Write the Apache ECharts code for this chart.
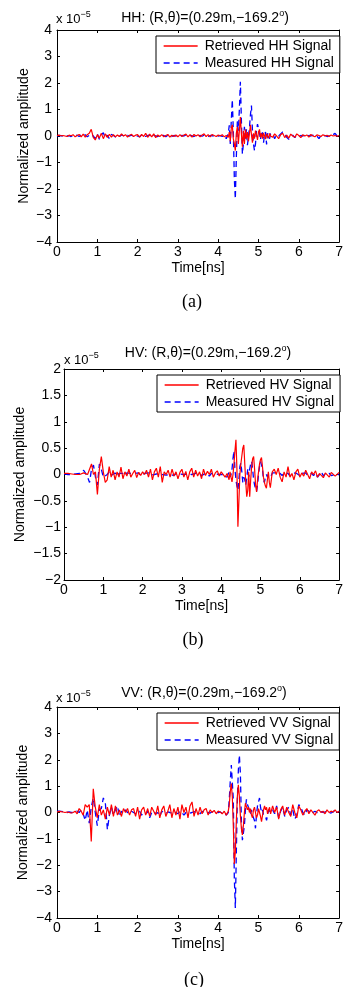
<!DOCTYPE html>
<html>
<head>
<meta charset="utf-8">
<script src="https://cdn.jsdelivr.net/npm/echarts@6/dist/echarts.min.js"></script>
<style>
html,body{margin:0;padding:0;background:#fff;}
#chart{width:346px;height:987px;}
</style>
</head>
<body>
<div id="chart"></div>
<script>
// ---- DATA (amplitudes in units of 1e-5) ----
const timeNs = [
0,0.05,0.1,0.15,0.2,0.25,0.3,0.35,0.4,0.45,
0.5,0.55,0.6,0.65,0.7,0.75,0.8,0.85,0.9,0.95,
1.0,1.05,1.1,1.15,1.2,1.25,1.3,1.35,1.4,1.45,
1.5,1.55,1.6,1.65,1.7,1.75,1.8,1.85,1.9,1.95,
2.0,2.05,2.1,2.15,2.2,2.25,2.3,2.35,2.4,2.45,
2.5,2.55,2.6,2.65,2.7,2.75,2.8,2.85,2.9,2.95,
3.0,3.05,3.1,3.15,3.2,3.25,3.3,3.35,3.4,3.45,
3.5,3.55,3.6,3.65,3.7,3.75,3.8,3.85,3.9,3.95,
4.0,4.05,4.1,4.15,4.2,
4.225,4.25,4.275,4.3,4.325,4.35,4.375,4.4,4.425,4.45,
4.475,4.5,4.525,4.55,4.575,4.6,4.625,4.65,4.675,4.7,
4.725,4.75,4.775,4.8,4.825,4.85,4.875,4.9,4.925,4.95,
4.975,5.0,5.025,5.05,5.075,5.1,5.125,5.15,5.175,5.2,
5.225,5.25,5.275,5.3,
5.35,5.4,5.45,5.5,5.55,5.6,5.65,5.7,5.75,5.8,
5.85,5.9,5.95,6.0,6.05,6.1,6.15,6.2,6.25,6.3,
6.35,6.4,6.45,6.5,6.55,6.6,6.65,6.7,6.75,6.8,
6.85,6.9,6.95,7.0
];

const hhRetrieved = [
0.02,0.03,0.01,0.02,0.0,-0.02,0.03,0.01,0.05,-0.03,
0.02,0.06,-0.03,0.07,-0.04,0.05,0.1,0.25,-0.05,-0.15,
0.05,-0.08,0.1,-0.1,0.08,-0.05,0.06,-0.04,0.05,-0.03,
0.04,-0.02,0.08,0.0,0.05,-0.04,0.03,0.06,-0.02,0.03,
0.05,-0.04,0.06,-0.02,0.1,-0.05,0.07,-0.03,0.08,-0.06,
0.04,-0.02,0.05,-0.03,0.02,0.06,-0.04,0.03,-0.02,0.04,
-0.03,0.05,-0.02,0.04,0.07,-0.03,0.05,-0.04,0.06,0.0,
0.05,-0.03,0.04,0.08,-0.02,0.05,-0.03,0.06,0.02,-0.02,
0.04,0.0,0.05,-0.03,0.02,
0.0,-0.05,0.15,-0.2,0.3,0.42,-0.1,-0.3,-0.55,0.1,
0.35,-0.3,0.2,0.72,0.1,-0.4,0.2,-0.3,0.25,-0.1,
0.15,-0.2,0.1,0.42,0.05,-0.25,0.1,-0.1,0.2,0.05,
-0.15,0.15,0.25,-0.05,0.1,-0.1,0.12,0.0,-0.12,0.08,
0.02,-0.08,0.1,0.0,
-0.05,0.08,0.0,-0.1,0.05,0.1,-0.06,0.03,-0.08,0.07,
0.0,-0.05,0.08,0.02,-0.06,0.05,0.0,0.04,-0.04,0.06,
0.0,-0.03,0.04,0.02,-0.02,0.05,0.0,0.03,-0.02,0.04,
0.0,0.02,-0.01,0.02
];
const hhMeasured = [
0.0,0.02,0.01,-0.01,0.02,0.0,0.01,-0.02,0.02,0.0,
0.03,-0.02,0.04,0.0,0.05,-0.03,0.02,0.06,0.0,-0.1,
0.08,-0.12,0.05,0.12,-0.08,0.03,-0.1,0.06,0.02,-0.04,
0.03,-0.02,0.04,0.01,-0.03,0.02,0.0,0.03,-0.01,0.02,
0.0,-0.03,0.04,0.05,-0.02,0.02,0.03,-0.04,0.02,0.0,
-0.02,0.03,0.0,0.02,-0.03,0.03,0.01,-0.02,0.02,0.0,
0.03,-0.01,0.02,0.0,0.04,-0.02,0.02,0.01,-0.02,0.03,
0.0,0.02,-0.01,0.03,0.0,-0.02,0.02,0.01,-0.01,0.02,
0.0,0.02,-0.02,0.03,-0.1,
-0.15,0.1,0.4,-0.3,0.6,1.38,0.2,-1.6,-2.38,-0.8,
0.55,0.2,1.0,2.05,0.6,-0.68,-0.3,0.35,-0.1,0.25,
-0.35,-0.42,0.3,0.8,1.15,0.2,-0.3,-0.55,-0.3,0.2,
0.45,0.5,0.1,-0.15,0.2,0.1,-0.25,0.05,0.15,-0.32,
0.1,0.05,-0.1,0.08,
0.1,-0.1,0.05,0.0,0.08,0.15,0.1,-0.05,-0.12,-0.05,
0.03,-0.06,0.02,-0.03,0.02,0.0,0.03,-0.02,0.02,0.0,
0.03,-0.02,0.0,-0.1,0.02,0.0,0.02,-0.02,0.01,0.0,
0.05,0.1,0.0,0.02
];

const hvRetrieved = [
0.02,0.01,0.02,0.0,0.01,0.02,0.0,0.01,0.0,0.02,
0.03,0.06,0.0,0.1,0.2,0.0,0.05,-0.38,0.1,0.34,
0.05,-0.15,-0.1,0.15,-0.05,0.08,-0.1,0.05,-0.05,0.14,
-0.08,0.05,-0.03,0.1,-0.05,0.02,0.08,-0.06,0.04,-0.02,
0.05,0.0,0.08,-0.05,0.1,-0.1,0.05,0.12,-0.05,0.15,
-0.15,0.05,0.0,0.08,-0.05,0.1,-0.03,0.05,-0.08,0.04,
0.1,-0.05,0.06,-0.1,0.05,0.12,-0.05,0.08,-0.03,0.05,
-0.08,0.1,-0.02,0.06,0.0,0.1,-0.05,0.03,0.07,-0.03,
0.05,0.08,-0.05,0.02,-0.1,
0.05,-0.05,-0.14,0.0,0.2,0.45,0.66,0.1,-0.99,-0.5,
0.0,0.2,0.35,0.5,0.56,0.2,-0.15,-0.42,-0.3,0.05,
-0.42,-0.1,0.15,0.3,0.34,0.1,-0.2,-0.33,-0.1,0.05,
0.2,0.28,0.32,0.15,-0.05,-0.15,-0.22,-0.26,-0.1,0.05,
-0.15,-0.25,-0.1,0.05,
0.1,0.0,0.12,-0.05,-0.14,0.05,-0.05,0.15,-0.05,0.02,
-0.1,0.05,0.1,-0.05,0.03,-0.03,0.08,0.0,-0.08,0.05,
0.0,0.07,-0.05,0.02,0.05,-0.06,0.03,0.0,-0.05,0.04,
0.02,-0.03,0.0,0.04
];
const hvMeasured = [
0.01,0.02,0.0,0.01,0.0,0.02,0.01,0.0,0.02,0.0,
0.08,0.02,-0.05,-0.15,0.1,0.18,-0.05,-0.2,0.2,0.1,
-0.05,-0.05,0.0,0.05,-0.02,0.0,0.03,-0.03,0.02,0.0,
0.02,-0.02,0.03,0.0,0.02,-0.01,0.02,0.0,0.03,-0.02,
0.01,0.02,0.0,0.03,-0.01,0.02,0.0,-0.02,0.02,0.01,
0.0,0.02,-0.01,0.02,0.0,0.01,-0.02,0.02,0.0,0.01,
0.02,0.0,-0.02,0.01,0.02,0.0,-0.01,0.02,0.0,0.02,
-0.02,0.01,0.02,0.0,-0.03,0.02,0.0,0.01,0.02,0.0,
0.02,0.0,0.03,-0.05,0.05,
-0.05,0.0,0.1,0.3,0.45,0.1,-0.1,-0.22,-0.3,-0.1,
0.15,0.22,0.05,-0.15,-0.05,-0.1,-0.2,-0.05,0.1,-0.05,
0.1,0.2,0.25,0.1,-0.1,-0.2,-0.28,-0.32,-0.2,0.0,
0.15,0.25,0.27,0.1,-0.1,-0.15,-0.05,0.0,-0.05,0.02,
0.0,0.05,-0.02,0.03,
0.0,0.03,0.0,0.02,-0.02,0.03,0.0,0.02,-0.03,0.02,
0.0,0.03,0.0,-0.02,0.02,0.0,0.03,-0.02,0.0,0.02,
-0.02,0.03,-0.05,0.0,0.05,-0.03,0.02,0.0,0.02,-0.02,
0.01,0.0,0.02,0.0
];

const vvRetrieved = [
0.02,0.04,0.03,0.02,0.0,0.02,0.0,-0.02,0.0,0.05,
-0.05,0.15,0.05,-0.1,0.3,0.2,0.3,-1.1,0.9,0.2,
-0.2,0.3,-0.1,0.1,-0.25,0.2,-0.1,0.3,-0.15,0.25,
-0.1,0.1,-0.15,0.15,0.0,0.15,-0.1,0.1,0.15,-0.15,
0.2,-0.25,0.1,0.2,-0.1,0.15,-0.15,0.2,0.05,-0.1,
0.25,-0.2,0.1,0.25,-0.15,0.05,0.3,-0.2,0.15,-0.1,
0.2,-0.25,0.3,0.0,0.2,-0.2,0.25,0.4,-0.15,0.15,
-0.1,0.2,-0.05,0.1,0.15,-0.1,0.1,0.0,0.08,-0.05,
0.05,0.02,-0.05,0.05,-0.1,
-0.05,0.05,0.3,0.8,1.1,0.6,-0.5,-1.95,-1.5,-0.3,
0.6,1.05,0.6,-0.1,-0.6,-0.85,-0.5,0.0,0.35,0.3,
0.1,0.2,0.0,0.15,-0.1,-0.2,0.1,0.2,0.0,-0.2,
-0.1,0.15,0.0,-0.15,-0.35,-0.1,0.1,0.25,0.1,0.2,
-0.05,0.1,0.2,-0.05,
0.25,0.0,0.2,-0.25,0.1,0.25,-0.1,0.2,0.0,-0.15,
0.3,0.0,-0.2,0.25,0.1,-0.1,0.05,0.15,-0.05,0.1,
0.0,-0.1,0.05,0.1,0.0,0.05,-0.05,0.1,0.0,0.05,
0.02,0.1,0.0,0.05
];
const vvMeasured = [
0.05,0.05,0.04,0.03,0.0,0.0,0.02,0.0,0.0,0.02,
0.05,0.0,0.1,-0.05,-0.3,0.1,-0.4,0.2,0.55,0.0,
-0.5,0.1,0.15,0.55,0.35,-0.65,-0.1,0.2,-0.1,0.1,
0.25,-0.15,0.05,-0.05,0.1,0.0,-0.05,0.05,0.0,-0.05,
0.0,0.05,-0.1,0.0,-0.05,0.05,-0.2,0.0,0.05,-0.05,
0.0,-0.15,0.05,0.0,-0.05,0.02,0.0,-0.03,0.02,0.0,
-0.05,0.05,0.0,-0.1,0.0,0.02,-0.02,0.0,0.03,0.0,
0.0,-0.05,0.05,0.0,0.02,0.0,-0.02,0.03,0.0,0.02,
0.0,0.02,-0.03,0.0,-0.1,
-0.1,0.0,0.5,1.2,1.8,1.87,0.5,-2.5,-3.62,-1.5,
0.5,1.6,2.18,1.5,-0.3,-1.05,-1.0,-0.5,0.1,0.5,
0.3,0.2,0.1,-0.05,0.1,-0.1,-0.2,-0.3,-0.6,-0.1,
0.25,0.4,0.55,0.2,0.0,0.1,-0.1,-0.05,-0.15,-0.3,
-0.1,0.1,0.05,0.0,
0.1,-0.05,0.25,-0.2,0.05,0.2,-0.15,0.1,0.2,-0.1,
0.1,-0.25,-0.1,0.3,0.2,0.0,-0.1,0.1,0.05,-0.05,
0.0,0.05,0.0,-0.05,0.03,0.0,0.02,0.05,0.0,-0.02,
0.02,0.1,0.0,0.05
];

const xTicks = {min: 0, max: 7, interval: 1};
const yRangeHH = {min: -4, max: 4, interval: 1};
const yRangeHV = {min: -2, max: 2, interval: 0.5};
const yRangeVV = {min: -4, max: 4, interval: 1};
const captions = ['(a)', '(b)', '(c)'];

// ---- LAYOUT ----
const FONT = 'Liberation Sans';
const FS = 14;
const panels = [
  {pol: 'HH', ret: hhRetrieved, mea: hhMeasured, yr: yRangeHH,
   grid: {left: 57, top: 30, width: 286, height: 212}, yLabMargin: 5, yNameGap: 26,
   legend: {left: 156, top: 36}, titleXY: [205, 18], expoXY: [56, 19], capXY: [192, 302]},
  {pol: 'HV', ret: hvRetrieved, mea: hvMeasured, yr: yRangeHV,
   grid: {left: 64, top: 369, width: 279, height: 211}, yLabMargin: 3, yNameGap: 37,
   legend: {left: 157, top: 375}, titleXY: [208, 353], expoXY: [64, 360], capXY: [193, 640]},
  {pol: 'VV', ret: vvRetrieved, mea: vvMeasured, yr: yRangeVV,
   grid: {left: 57, top: 707, width: 286, height: 211}, yLabMargin: 5, yNameGap: 27,
   legend: {left: 157, top: 713}, titleXY: [204, 693], expoXY: [56, 698], capXY: [194, 980]}
];

const minus = v => String(v).replace('-', '\u2212');
const grids = [], xAxes = [], yAxes = [], series = [], legends = [], graphics = [];

panels.forEach((p, i) => {
  grids.push(Object.assign({containLabel: false, show: false}, p.grid));
  const tick = {inside: true, length: 3, lineStyle: {color: '#000', width: 1}};
  const line = {show: true, onZero: false, lineStyle: {color: '#000', width: 1}};
  xAxes.push({type: 'value', gridIndex: i, position: 'bottom', min: xTicks.min, max: xTicks.max, interval: xTicks.interval,
    axisLine: line, axisTick: tick, splitLine: {show: false},
    axisLabel: {color: '#000', fontSize: FS, fontFamily: FONT, margin: 3},
    name: 'Time[ns]', nameLocation: 'middle', nameGap: 19, nameMoveOverlap: false,
    nameTextStyle: {color: '#000', fontSize: FS, fontFamily: FONT, verticalAlign: 'top'}});
  xAxes.push({type: 'value', gridIndex: i, position: 'top', min: xTicks.min, max: xTicks.max, interval: xTicks.interval,
    axisLine: line, axisTick: tick, splitLine: {show: false}, axisLabel: {show: false}});
  yAxes.push({type: 'value', gridIndex: i, position: 'left', min: p.yr.min, max: p.yr.max, interval: p.yr.interval,
    axisLine: line, axisTick: tick, splitLine: {show: false},
    axisLabel: {color: '#000', fontSize: FS, fontFamily: FONT, margin: p.yLabMargin, formatter: minus},
    name: 'Normalized amplitude', nameLocation: 'middle', nameGap: p.yNameGap, nameMoveOverlap: false,
    nameTextStyle: {color: '#000', fontSize: FS, fontFamily: FONT}});
  yAxes.push({type: 'value', gridIndex: i, position: 'right', min: p.yr.min, max: p.yr.max, interval: p.yr.interval,
    axisLine: line, axisTick: tick, splitLine: {show: false}, axisLabel: {show: false}});

  const retName = 'Retrieved ' + p.pol + ' Signal';
  const meaName = 'Measured ' + p.pol + ' Signal';
  series.push({type: 'line', name: meaName, xAxisIndex: 2 * i, yAxisIndex: 2 * i,
    data: timeNs.map((t, k) => [t, p.mea[k]]), symbol: 'none', showSymbol: false,
    lineStyle: {color: '#0000ff', width: 1.3, type: [6, 4]}, itemStyle: {color: '#0000ff'}, z: 2});
  series.push({type: 'line', name: retName, xAxisIndex: 2 * i, yAxisIndex: 2 * i,
    data: timeNs.map((t, k) => [t, p.ret[k]]), symbol: 'none', showSymbol: false,
    lineStyle: {color: '#ff0000', width: 1.2}, itemStyle: {color: '#ff0000'}, z: 3});

  legends.push({data: [retName, meaName], orient: 'vertical', left: p.legend.left, top: p.legend.top,
    padding: [3, 6, 3, 7], itemGap: 3, itemWidth: 34, itemHeight: 15,
    borderColor: '#000', borderWidth: 1, borderRadius: 0, backgroundColor: '#fff',
    itemStyle: {opacity: 0},
    lineStyle: {width: 1.3},
    textStyle: {color: '#000', fontSize: FS, fontFamily: FONT, padding: [0, 0, 0, 2]},
    selectedMode: false});

  graphics.push({type: 'text', x: p.titleXY[0], y: p.titleXY[1],
    style: {text: '{m|' + p.pol + ': (R,\u03b8)=(0.29m,\u2212169.2}{s|o}{m|)}',
      rich: {m: {fontSize: FS, fontFamily: FONT, fill: '#000'}, s: {fontSize: 9, fontFamily: FONT, fill: '#000', padding: [0, 0, 9, 0]}},
      align: 'center', verticalAlign: 'middle', fill: '#000'}});
  graphics.push({type: 'text', x: p.expoXY[0], y: p.expoXY[1],
    style: {text: '{m|x 10}{s|\u22125}',
      rich: {m: {fontSize: 13, fontFamily: FONT, fill: '#000'}, s: {fontSize: 9, fontFamily: FONT, fill: '#000', padding: [0, 0, 9, 0]}},
      align: 'left', verticalAlign: 'middle', fill: '#000'}});
  graphics.push({type: 'text', x: p.capXY[0], y: p.capXY[1],
    style: {text: captions[i], fontSize: 18, fontFamily: 'Liberation Serif', fill: '#000',
      align: 'center', verticalAlign: 'middle'}});
});

const chart = echarts.init(document.getElementById('chart'), null, {renderer: 'canvas'});
chart.setOption({
  animation: false,
  backgroundColor: '#fff',
  grid: grids, xAxis: xAxes, yAxis: yAxes, series: series, legend: legends,
  graphic: {elements: graphics}
});
</script>
</body>
</html>
